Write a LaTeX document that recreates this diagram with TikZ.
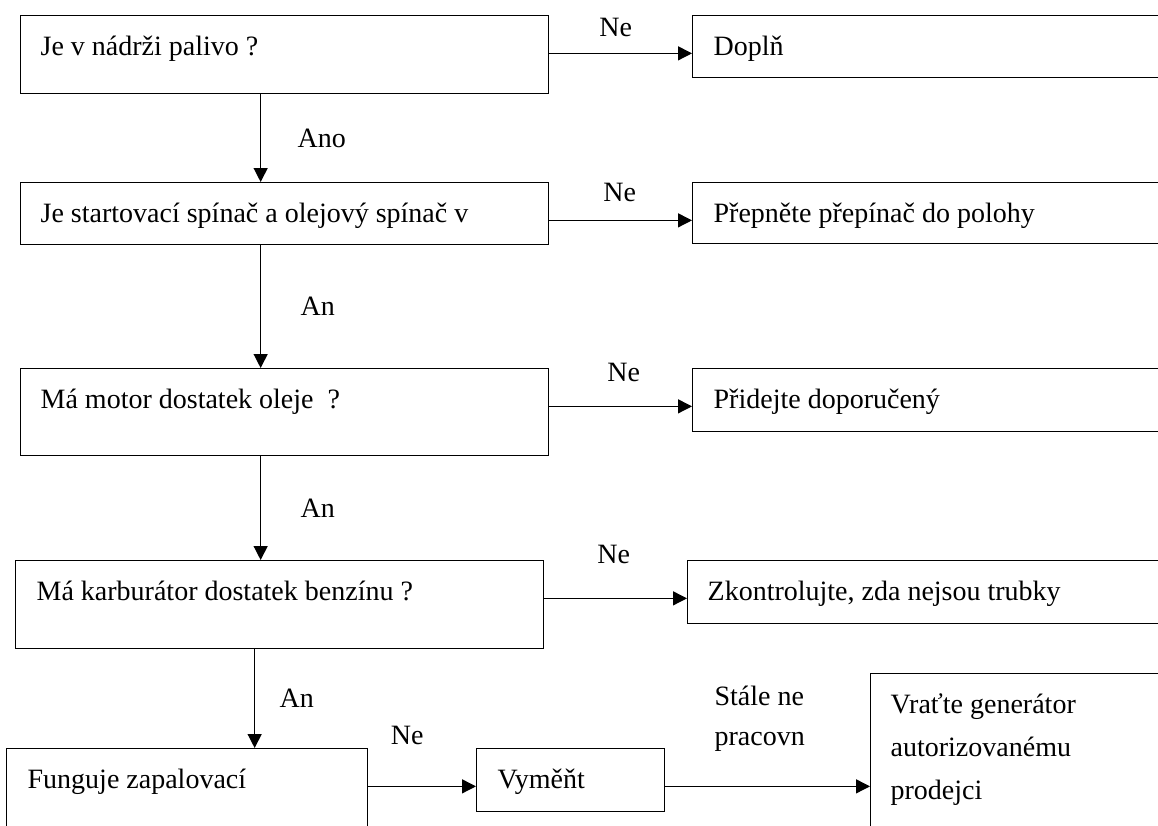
\documentclass[tikz,border=0pt]{standalone}
\usepackage{fontspec}
\setmainfont{Liberation Serif}
\usetikzlibrary{arrows.meta, positioning}
\tikzset{
  box/.style={
    rectangle, draw=black, line width=1.3pt,
    anchor=north west, align=flush left,
    inner xsep=20pt, inner ysep=0pt,
    text height=40pt,
    font=\fontsize{28}{43}\selectfont
  },
  askBox/.style={box, text width=488pt},
  fixBox/.style={box, inner xsep=21pt, text width=480pt},
  arr/.style={
    -{Triangle[length=14pt, width=14pt]}, line width=1.3pt
  },
  lbl/.style={font=\fontsize{28}{40}\selectfont, align=flush left}
}

\begin{document}
\begin{tikzpicture}[x=1pt, y=-1pt]
  \useasboundingbox (0,0) rectangle (1158,825);

  \node[askBox, text depth=38pt] (fuel) at (20,15) {Je v nádrži palivo ?};
  \node[fixBox, text depth=22pt] (refill) at (692,15) {Doplň};
  \node[askBox, text depth=22pt] (switch) at (20,182) {Je startovací spínač a olejový spínač v};
  \node[fixBox, text depth=21pt] (flip) at (692,182) {Přepněte přepínač do polohy};
  \node[askBox, text depth=47pt] (oil) at (20,368) {Má motor dostatek oleje~~?};
  \node[fixBox, text depth=23pt] (addoil) at (692,368) {Přidejte doporučený};
  \node[askBox, inner xsep=21pt, text width=486pt, text depth=48pt] (carb) at (15,560) {Má karburátor dostatek benzínu ?};
  \node[box, text width=473pt, text depth=23pt] (hoses) at (687,560) {Zkontrolujte, zda nejsou trubky};
  \node[box, inner xsep=21pt, text width=319pt, text depth=100pt] (spark) at (6,748) {Funguje zapalovací};
  \node[box, inner xsep=21pt, text width=146pt, text depth=23pt] (swap) at (476,748) {Vyměňt};
  \node[box, text width=290pt, text depth=200pt] (dealer) at (870,673) {Vraťte generátor\\autorizovanému\\prodejci};

  % fuel -> refill
  \draw[arr] (fuel.mid east) -- node[lbl, above=13pt, xshift=-5pt] {Ne} (refill.mid west);

  % fuel -> switch
  \draw[arr] ([xshift=-24pt]fuel.south) -- node[lbl, right=33pt] {Ano} ([xshift=-24pt]fuel.south |- switch.north);

  % switch -> flip
  \draw[arr] (switch.mid east) -- node[lbl, above=15pt, xshift=-1pt] {Ne} (flip.mid west);

  % switch -> oil
  \draw[arr] ([xshift=-24pt]switch.south) -- node[lbl, right=36pt] {An} ([xshift=-24pt]switch.south |- oil.north);

  % oil -> addoil
  \draw[arr] (oil.mid east) -- node[lbl, above=21pt, xshift=3pt] {Ne} (addoil.mid west);

  % oil -> carb
  \draw[arr] ([xshift=-24pt]oil.south) -- node[lbl, right=36pt] {An} ([xshift=-24pt]oil.south |- carb.north);

  % carb -> hoses
  \draw[arr] (carb.mid east) -- node[lbl, above=31pt, xshift=-2pt] {Ne} (hoses.mid west);

  % carb -> spark
  \draw[arr] ([xshift=-25pt]carb.south) -- node[lbl, right=21pt] {An} ([xshift=-25pt]carb.south |- spark.north);

  % spark -> swap
  \draw[arr] (spark.mid east) -- node[lbl, above=38pt, xshift=-15pt] {Ne} (swap.mid west);

  % swap -> dealer
  \draw[arr] (swap.mid east) -- node[lbl, above=31pt, xshift=-8pt] {Stále ne\\pracovn} (swap.mid east -| dealer.west);

\end{tikzpicture}
\end{document}
